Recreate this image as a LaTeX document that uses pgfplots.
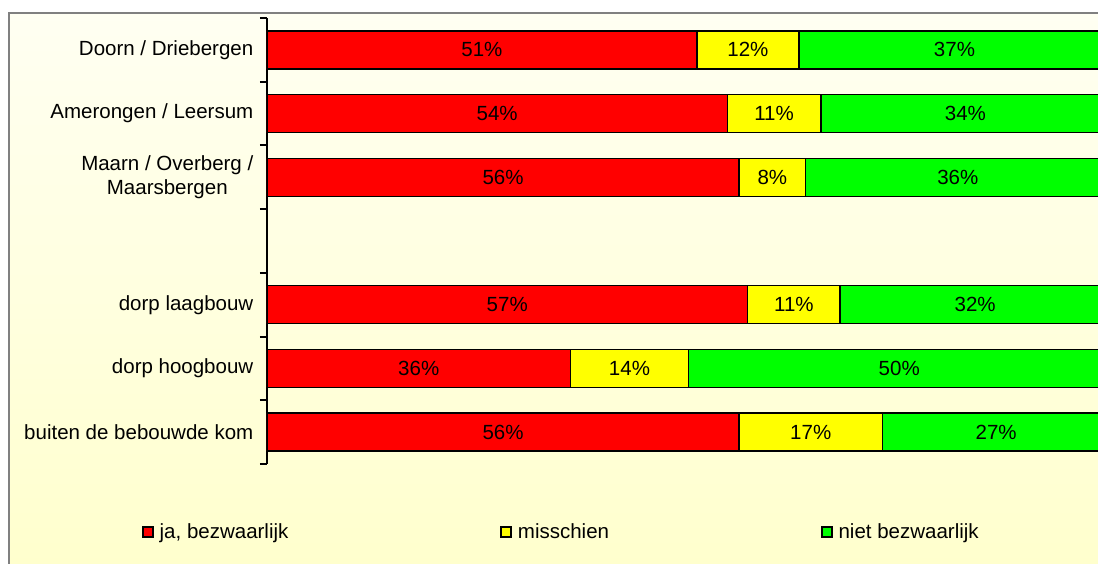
\documentclass[border=0pt]{standalone}
\usepackage{fontspec}
\setmainfont{Liberation Sans}
\usepackage{pgfplots}
\usepackage{pgfplotstable}
\pgfplotsset{compat=1.18}
\definecolor{bgtop}{RGB}{255,255,242}
\definecolor{bgbot}{RGB}{255,255,204}
\definecolor{barred}{RGB}{255,0,0}
\definecolor{baryel}{RGB}{255,255,0}
\definecolor{bargrn}{RGB}{0,255,0}
\definecolor{framegray}{RGB}{128,128,128}

\pgfplotstableread{
pos ja   mis  niet lja lmis lniet
0   51.0 12.1 36.9 51  12   37
1   54.6 11.1 34.3 54  11   34
2   56.0 7.9  36.1 56  8    36
4   57.0 11.0 32.0 57  11   32
5   36.0 14.0 50.0 36  14   50
6   56.0 17.0 27.0 56  17   27
}\data

\begin{document}
\begin{tikzpicture}[x=1pt,y=1pt]
\shade[top color=bgtop, bottom color=bgbot] (9,-13) rectangle (1115,-580);
\draw[framegray, line width=1.8pt] (9,-580) -- (9,-13) -- (1115,-13);
\begin{axis}[
  at={(267pt,-464pt)}, anchor=south west,
  scale only axis, width=843pt, height=446pt,
  xbar stacked, bar width=38pt,
  xmin=0, xmax=100, ymin=-0.5, ymax=6.5, y dir=reverse,
  axis x line=none, axis y line*=left,
  y axis line style={line width=2pt, black, -},
  xtick=\empty,
  ytick={0,1,2,3,4,5,6},
  yticklabels={Doorn / Driebergen, Amerongen / Leersum, {Maarn / Overberg /\\Maarsbergen}, {}, dorp laagbouw, dorp hoogbouw, buiten de bebouwde kom},
  major tick length=0pt,
  minor ytick={-0.5,0.5,1.5,2.5,3.5,4.5,5.5,6.5},
  minor tick length=7pt,
  tick align=outside,
  every tick/.style={line width=2pt, black},
  yticklabel style={align=center, font=\fontsize{20.5}{23.5}\selectfont, inner xsep=0pt, xshift=-13.5pt},
  point meta=explicit symbolic,
  nodes near coords={\pgfplotspointmeta\%},
  nodes near coords style={font=\fontsize{20.5}{23.5}\selectfont, text=black, anchor=center},
  legend columns=3,
  legend style={draw=none, fill=none, inner sep=0pt, at={(-0.1483,-0.1524)}, anchor=west,
    font=\fontsize{20.5}{23.5}\selectfont,
    nodes={inner sep=0pt},
    /tikz/every odd column/.append style={column sep=6pt},
    /tikz/every even column/.append style={column sep=212pt}},
  legend image code/.code={\draw[#1, line width=1.5pt] (0pt,-5pt) rectangle (10pt,5pt);},
]
\addplot[fill=barred, draw=black, line width=1.5pt]
  table[x=ja, y=pos, meta=lja] {\data};
\addlegendentry{ja, bezwaarlijk}
\addplot[fill=baryel, draw=black, line width=1.5pt]
  table[x=mis, y=pos, meta=lmis] {\data};
\addlegendentry{misschien}
\addplot[fill=bargrn, draw=black, line width=1.5pt]
  table[x=niet, y=pos, meta=lniet] {\data};
\addlegendentry{niet bezwaarlijk}
\end{axis}
\pgfresetboundingbox
\useasboundingbox (0,0) rectangle (1098,-563);
\end{tikzpicture}
\end{document}
